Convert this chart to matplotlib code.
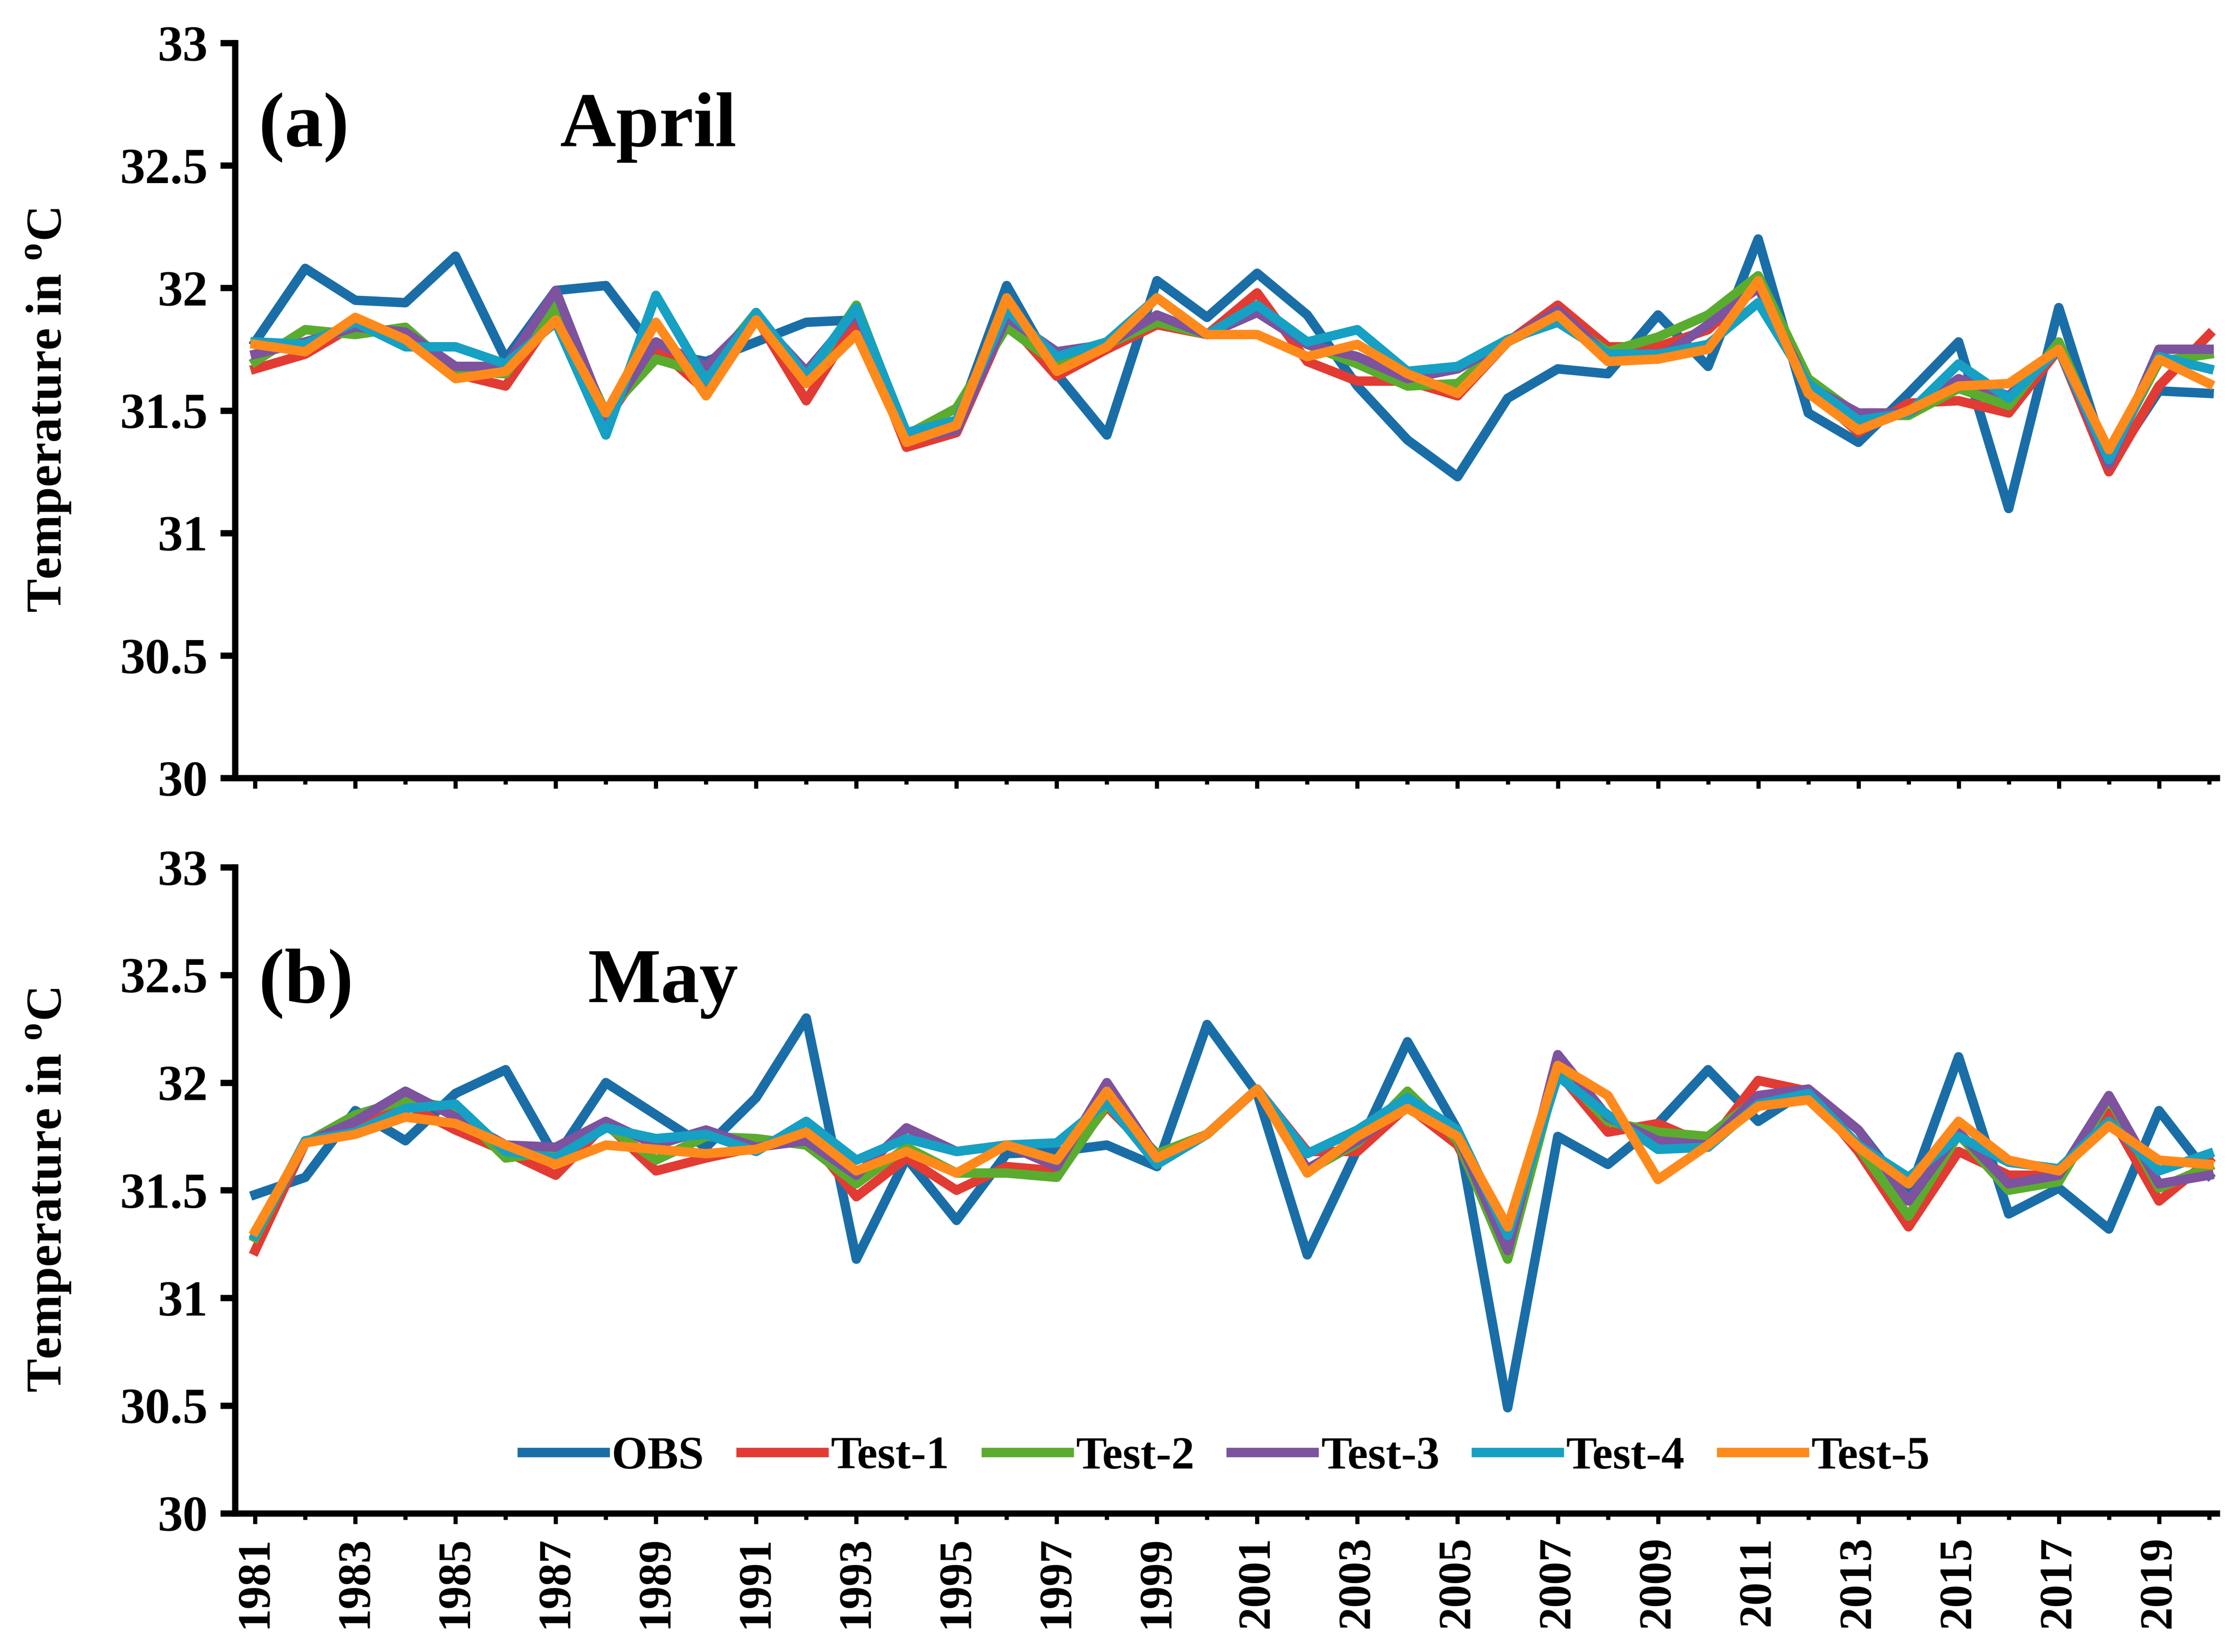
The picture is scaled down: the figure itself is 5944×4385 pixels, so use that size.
import matplotlib
matplotlib.use("Agg")
import matplotlib.pyplot as plt
from matplotlib.ticker import FixedLocator

plt.rcParams['font.family'] = ['Liberation Serif', 'DejaVu Serif']
plt.rcParams['font.weight'] = 'bold'
plt.rcParams['mathtext.fontset'] = 'custom'
plt.rcParams['mathtext.rm'] = 'Liberation Serif:bold'
plt.rcParams['mathtext.bf'] = 'Liberation Serif:bold'

years = list(range(1981, 2021))
labels = ["OBS", "Test-1", "Test-2", "Test-3", "Test-4", "Test-5"]
colors = ["#1a6ea8", "#e23b33", "#5aac2f", "#7d529e", "#16a0c3", "#ff8a1c"]

# April (a)
obs_apr = [31.78, 32.08, 31.95, 31.94, 32.13, 31.71, 31.99, 32.01, 31.74, 31.70,
           31.78, 31.86, 31.87, 31.39, 31.45, 32.01, 31.65, 31.40, 32.03, 31.88,
           32.06, 31.89, 31.60, 31.38, 31.23, 31.55, 31.67, 31.65, 31.89, 31.68,
           32.20, 31.49, 31.37, 31.57, 31.78, 31.10, 31.92, 31.27, 31.58, 31.57]
t1_apr = [31.67, 31.73, 31.85, 31.79, 31.65, 31.60, 31.90, 31.46, 31.76, 31.58,
          31.88, 31.54, 31.87, 31.35, 31.41, 31.87, 31.64, 31.75, 31.85, 31.81,
          31.98, 31.70, 31.62, 31.62, 31.56, 31.78, 31.93, 31.76, 31.76, 31.83,
          32.02, 31.59, 31.41, 31.53, 31.54, 31.49, 31.75, 31.25, 31.60, 31.81]
t2_apr = [31.70, 31.83, 31.81, 31.84, 31.66, 31.65, 31.93, 31.49, 31.71, 31.65,
          31.90, 31.62, 31.93, 31.40, 31.51, 31.84, 31.69, 31.77, 31.86, 31.81,
          31.92, 31.77, 31.69, 31.60, 31.61, 31.78, 31.88, 31.74, 31.80, 31.89,
          32.05, 31.63, 31.48, 31.48, 31.59, 31.52, 31.78, 31.31, 31.70, 31.73]
t3_apr = [31.73, 31.78, 31.84, 31.82, 31.68, 31.68, 31.99, 31.47, 31.78, 31.68,
          31.88, 31.66, 31.90, 31.38, 31.42, 31.88, 31.74, 31.77, 31.89, 31.81,
          31.90, 31.77, 31.72, 31.63, 31.67, 31.78, 31.91, 31.72, 31.71, 31.85,
          32.00, 31.60, 31.49, 31.49, 31.63, 31.56, 31.75, 31.28, 31.75, 31.75]
t4_apr = [31.78, 31.77, 31.86, 31.76, 31.76, 31.69, 31.86, 31.40, 31.97, 31.62,
          31.90, 31.64, 31.92, 31.41, 31.46, 31.91, 31.72, 31.78, 31.96, 31.81,
          31.93, 31.78, 31.83, 31.66, 31.68, 31.79, 31.86, 31.73, 31.73, 31.77,
          31.94, 31.61, 31.46, 31.49, 31.69, 31.55, 31.75, 31.30, 31.72, 31.67]
t5_apr = [31.77, 31.74, 31.88, 31.79, 31.63, 31.66, 31.87, 31.49, 31.86, 31.56,
          31.87, 31.61, 31.81, 31.37, 31.44, 31.96, 31.66, 31.76, 31.96, 31.81,
          31.81, 31.72, 31.77, 31.65, 31.57, 31.78, 31.89, 31.70, 31.71, 31.75,
          32.03, 31.57, 31.42, 31.50, 31.60, 31.61, 31.75, 31.34, 31.71, 31.61]

# May (b)
obs_may = [31.48, 31.56, 31.87, 31.73, 31.95, 32.06, 31.65, 32.00, 31.85, 31.70,
           31.93, 32.30, 31.18, 31.65, 31.36, 31.67, 31.68, 31.71, 31.61, 32.27,
           31.95, 31.20, 31.69, 32.19, 31.78, 30.49, 31.75, 31.62, 31.81, 32.06,
           31.82, 31.97, 31.78, 31.48, 32.12, 31.39, 31.51, 31.32, 31.87, 31.57]
t1_may = [31.22, 31.72, 31.81, 31.90, 31.78, 31.68, 31.57, 31.81, 31.59, 31.65,
          31.70, 31.76, 31.47, 31.65, 31.50, 31.61, 31.59, 31.89, 31.65, 31.76,
          31.97, 31.68, 31.68, 31.89, 31.71, 31.25, 32.05, 31.77, 31.81, 31.71,
          32.01, 31.96, 31.68, 31.33, 31.68, 31.57, 31.57, 31.86, 31.45, 31.64]
t2_may = [31.28, 31.72, 31.85, 31.92, 31.88, 31.65, 31.68, 31.80, 31.64, 31.75,
          31.74, 31.71, 31.53, 31.70, 31.58, 31.58, 31.56, 31.90, 31.67, 31.76,
          31.97, 31.59, 31.72, 31.96, 31.73, 31.18, 32.06, 31.82, 31.77, 31.75,
          31.93, 31.96, 31.70, 31.38, 31.76, 31.50, 31.54, 31.93, 31.51, 31.61]
t3_may = [31.29, 31.72, 31.82, 31.96, 31.84, 31.71, 31.70, 31.82, 31.71, 31.78,
          31.70, 31.73, 31.57, 31.79, 31.68, 31.71, 31.61, 32.00, 31.65, 31.76,
          31.97, 31.60, 31.73, 31.90, 31.75, 31.22, 32.13, 31.84, 31.73, 31.71,
          31.94, 31.97, 31.78, 31.45, 31.77, 31.53, 31.57, 31.94, 31.53, 31.57]
t4_may = [31.29, 31.73, 31.77, 31.88, 31.90, 31.68, 31.65, 31.79, 31.74, 31.76,
          31.68, 31.82, 31.64, 31.74, 31.68, 31.71, 31.72, 31.91, 31.62, 31.76,
          31.97, 31.67, 31.78, 31.93, 31.78, 31.29, 32.03, 31.85, 31.69, 31.70,
          31.90, 31.95, 31.71, 31.56, 31.75, 31.63, 31.60, 31.82, 31.59, 31.67]
t5_may = [31.31, 31.72, 31.76, 31.84, 31.81, 31.71, 31.62, 31.71, 31.69, 31.67,
          31.69, 31.77, 31.59, 31.68, 31.58, 31.71, 31.64, 31.96, 31.65, 31.76,
          31.97, 31.58, 31.75, 31.88, 31.75, 31.33, 32.08, 31.94, 31.55, 31.71,
          31.89, 31.92, 31.70, 31.53, 31.82, 31.64, 31.59, 31.80, 31.64, 31.62]

yticks = [30, 30.5, 31, 31.5, 32, 32.5, 33]
ytick_labels = ['30', '30.5', '31', '31.5', '32', '32.5', '33']

panels = [
    ("(a)", "April", [obs_apr, t1_apr, t2_apr, t3_apr, t4_apr, t5_apr]),
    ("(b)", "May", [obs_may, t1_may, t2_may, t3_may, t4_may, t5_may]),
]

fig = plt.figure(figsize=(14.86, 10.9625), dpi=400)
ax_a = fig.add_axes([0.105, 0.529, 0.885, 0.445])
ax_b = fig.add_axes([0.105, 0.084, 0.885, 0.391])
axes = [ax_a, ax_b]

ylab = r'Temperature in $^{\mathrm{o}}$C'

for ax, (tag, month, series) in zip(axes, panels):
    for vals, lab, col in zip(series, labels, colors):
        ax.plot(years, vals, color=col, lw=4.5, label=lab)

    ax.set_xlim(1980.6, 2020.15)
    ax.set_ylim(30, 33)
    ax.set_yticks(yticks)
    ax.set_yticklabels(ytick_labels)
    ax.xaxis.set_major_locator(FixedLocator(years[::2]))
    ax.xaxis.set_minor_locator(FixedLocator(years[1::2]))

    for s in ['top', 'right']:
        ax.spines[s].set_visible(False)
    for s in ['left', 'bottom']:
        ax.spines[s].set_linewidth(3)

    ax.tick_params(axis='y', direction='out', length=7, width=3, labelsize=24, pad=6)
    ax.tick_params(axis='x', which='major', direction='out', length=5, width=2,
                   labelsize=22, pad=6)
    ax.tick_params(axis='x', which='minor', direction='out', length=3, width=2)

    for t in ax.get_yticklabels():
        t.set_fontweight('bold')

    ax.set_ylabel(ylab, fontsize=24, fontweight='bold')
    ax.yaxis.set_label_coords(-0.082, 0.5)

    ax.text(0.012, 0.885 if tag == "(a)" else 0.82, tag, transform=ax.transAxes,
            fontsize=37, fontweight='bold', va='center', ha='left')
    ax.text(0.164 if tag == "(a)" else 0.178, 0.885 if tag == "(a)" else 0.82, month,
            transform=ax.transAxes, fontsize=37, fontweight='bold', va='center', ha='left')

ax_a.tick_params(axis='x', labelbottom=False)
ax_b.set_xticklabels([str(y) for y in years[::2]], rotation=90, fontweight='bold')

ax_b.legend(loc='lower center', bbox_to_anchor=(0.5, -0.01), ncol=6, frameon=False,
            prop={'family': 'Liberation Serif', 'weight': 'bold', 'size': 22},
            handlelength=1.8, handletextpad=0.15, columnspacing=0.8)

fig.savefig("out.png", dpi=400, facecolor='white')
